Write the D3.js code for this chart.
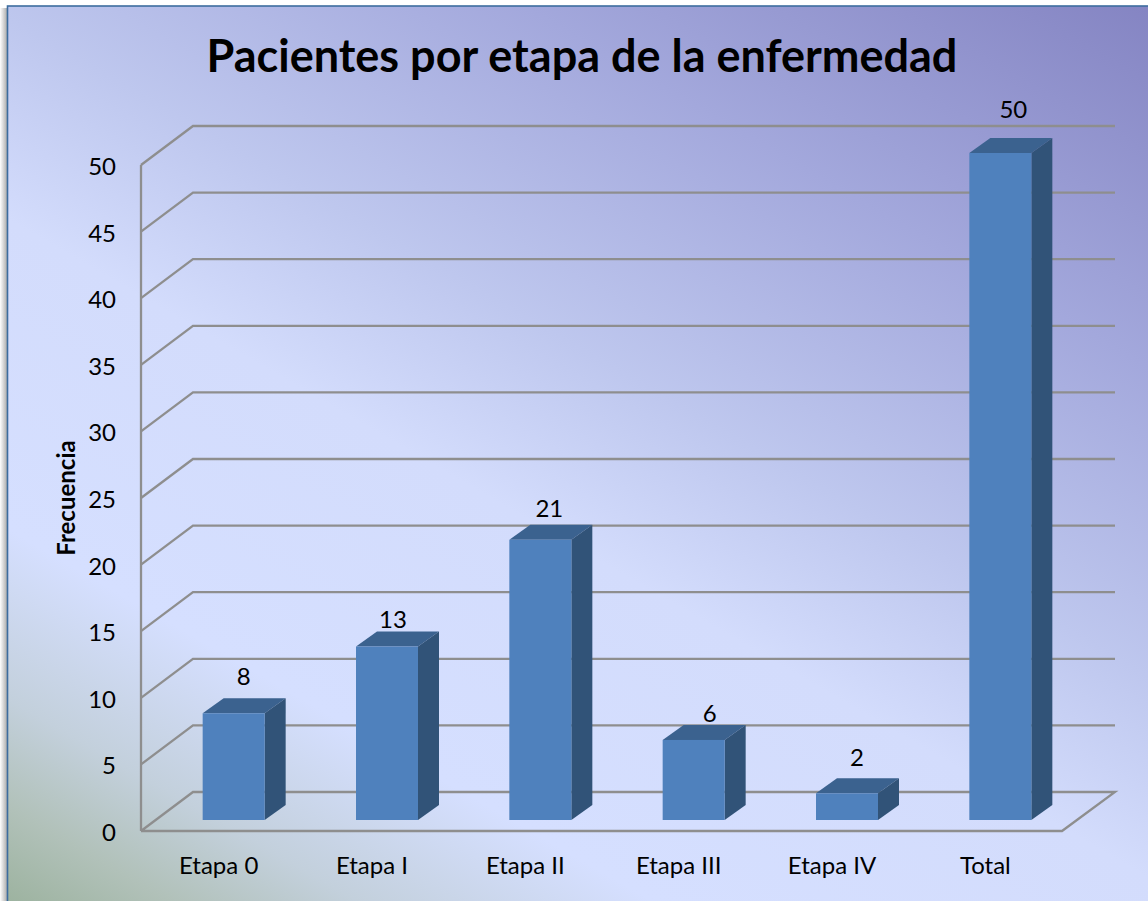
<!DOCTYPE html>
<html><head><meta charset="utf-8">
<script src="https://cdn.jsdelivr.net/npm/d3@7"></script>
<style>html,body{margin:0;padding:0;background:#fff}svg{display:block}text{font-family:Lato,"Open Sans",sans-serif;fill:#000}</style>
</head><body><svg id="c" width="1148" height="901"></svg>
<script>
const categories = ["Etapa 0","Etapa I","Etapa II","Etapa III","Etapa IV","Total"];
const values = [8,13,21,6,2,50];
const yTicks = [0,5,10,15,20,25,30,35,40,45,50];
const title = "Pacientes por etapa de la enfermedad";
const yTitle = "Frecuencia";

const svg = d3.select("#c");
const defs = svg.append("defs");
const grad = defs.append("linearGradient").attr("id","bg").attr("gradientUnits","userSpaceOnUse")
  .attr("x1",7).attr("y1",900).attr("x2",677).attr("y2",-261);
[[0,"#9db3a0"],[.06,"#b1c1b9"],[.13,"#c3d0dc"],[.24,"#d5dfff"],[.44,"#d3dcfc"],[.57,"#bec7ee"],[.77,"#a3a8dc"],[1,"#8585c3"]]
  .forEach(s=>grad.append("stop").attr("offset",s[0]).attr("stop-color",s[1]));
const shadow = defs.append("linearGradient").attr("id","sh");
shadow.append("stop").attr("offset",0).attr("stop-color","#fff");
shadow.append("stop").attr("offset",1).attr("stop-color","#a0a0a0");

svg.append("rect").attr("x",0).attr("y",8).attr("width",8).attr("height",893).attr("fill","url(#sh)");
svg.append("rect").attr("x",7.5).attr("y",6).attr("width",1145).attr("height",900)
  .attr("fill","url(#bg)").attr("stroke","#3d6d9f").attr("stroke-width",1.6);

// chart geometry
const depth = {dx:52, dy:-39};
const y = d3.scaleLinear().domain([0,50]).range([831,165]);
const frontLeft = 141, frontRight = 1062;
const grid = "#8e8e8e";

// floor and gridlines
const g = svg.append("g").attr("fill","none").attr("stroke",grid).attr("stroke-width",2.3);
g.append("path").attr("d",d3.line()([
  [frontLeft,y(0)],[frontRight,y(0)],[frontRight+depth.dx+1,y(0)+depth.dy],[frontLeft+depth.dx,y(0)+depth.dy],[frontLeft,y(0)]]));
g.append("line").attr("x1",frontLeft).attr("x2",frontLeft).attr("y1",y(0)).attr("y2",y(50));
g.selectAll("path.grid").data(yTicks.slice(1)).join("path").attr("class","grid")
  .attr("d",t=>d3.line()([[frontLeft,y(t)],[frontLeft+depth.dx,y(t)+depth.dy],[frontRight+depth.dx+1,y(t)+depth.dy]]));

// y tick labels
svg.append("g").selectAll("text").data(yTicks).join("text")
  .attr("x",116).attr("y",t=>y(t)+10).attr("text-anchor","end").attr("font-size",24).text(t=>t);

// y title
svg.append("text").attr("transform","translate(75,498) rotate(-90)").attr("text-anchor","middle")
  .attr("font-size",24).attr("font-weight",700).text(yTitle);

// bars
const x = d3.scaleBand().domain(categories).range([157,1077]).paddingInner(0.6).paddingOuter(0.3);
const barW = 62;
const barX = d => x(d)+x.bandwidth()/2 - barW/2;
const yb = d3.scaleLinear().domain([0,50]).range([820,153]);
const bd = {dx:21, dy:-15};
// hand-placed label offsets from the top centre of each bar's front face
const labelDx = [10,6,9,16,10,13];
const labelDy = [-28,-19,-23,-18,-27,-35];
const bars = svg.append("g").selectAll("g").data(categories.map((c,i)=>({c,v:values[i],i}))).join("g");
bars.append("path").attr("fill","#3b628f").attr("d",d=>{
  const l=barX(d.c),t=yb(d.v);
  return d3.line()([[l,t],[l+bd.dx,t+bd.dy],[l+barW+bd.dx,t+bd.dy],[l+barW,t]])+"Z";});
bars.append("path").attr("fill","#315378").attr("d",d=>{
  const r=barX(d.c)+barW,t=yb(d.v),b=yb(0);
  return d3.line()([[r,t],[r+bd.dx,t+bd.dy],[r+bd.dx,b+bd.dy],[r,b]])+"Z";});
bars.append("rect").attr("fill","#4f81bd").attr("x",d=>barX(d.c)).attr("y",d=>yb(d.v)).attr("width",barW).attr("height",d=>yb(0)-yb(d.v));
bars.append("text").attr("x",d=>barX(d.c)+barW/2+labelDx[d.i]).attr("y",d=>yb(d.v)+labelDy[d.i]).attr("text-anchor","middle").attr("font-size",24).text(d=>d.v);

// x labels
svg.append("g").selectAll("text").data(categories).join("text")
  .attr("x",d=>barX(d)+barW/2-15).attr("y",874).attr("text-anchor","middle").attr("font-size",24).text(d=>d);

// title
svg.append("text").attr("x",582).attr("y",72).attr("text-anchor","middle").attr("font-size",45).attr("font-weight",700).text(title);
</script></body></html>
